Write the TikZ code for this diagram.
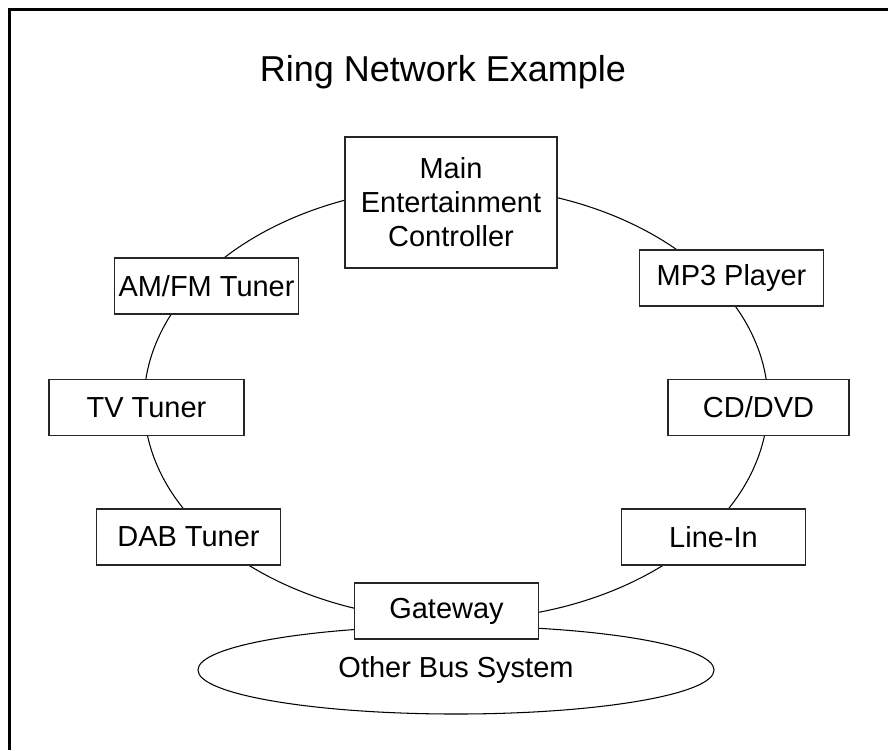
\documentclass[tikz,border=0pt]{standalone}
\usepackage{fontspec}
\setmainfont{Liberation Sans}
\usepackage{tikz}
\usetikzlibrary{shapes.geometric, positioning}

\begin{document}
\begin{tikzpicture}[x=0.025cm, y=-0.025cm,
    unit/.style={rectangle, draw=black!85, line width=0.9pt, fill=white, minimum width=4.6cm, minimum height=1.4cm, align=center, font=\fontsize{20.6}{24.2}\selectfont, inner sep=0pt},
    ring/.style={line width=0.75pt},
    bus/.style={ellipse, draw, line width=0.75pt, minimum width=12.9cm, minimum height=2.2cm, font=\fontsize{20.6}{24.2}\selectfont}
]
\useasboundingbox (0,0) rectangle (888,750);

% frame
\draw[line width=0.075cm] (9.5,750) -- (9.5,9.5) -- (888,9.5);

\node[font=\fontsize{25.6}{30}\selectfont] (title) at (443,72) {Ring Network Example};

% ring and outside bus
\coordinate (ringc) at (456,403);
\draw[ring] (ringc) ellipse [x radius=312, y radius=217];
\node[bus] (other) at (456,670) {Other Bus System};

\node[unit, minimum width=5.3cm, minimum height=3.275cm] (main) at (451,202.5) {Main\\Entertainment\\Controller};
\node[unit] (amfm) at (206.5,286) {AM/FM Tuner};
\node[unit, minimum width=4.875cm] (tv) at (146.5,407.5) {TV Tuner};
\node[unit] (dab) at (188.5,537) {DAB Tuner};
\node[unit] (gateway) at (446.5,611) {Gateway};
\node[unit] (linein) at (713.5,537) {Line-In};
\node[unit, minimum width=4.525cm] (cddvd) at (758.5,407.5) {CD/DVD};
\node[unit] (mp3) at (731.5,278) {MP3 Player};

\end{tikzpicture}
\end{document}
